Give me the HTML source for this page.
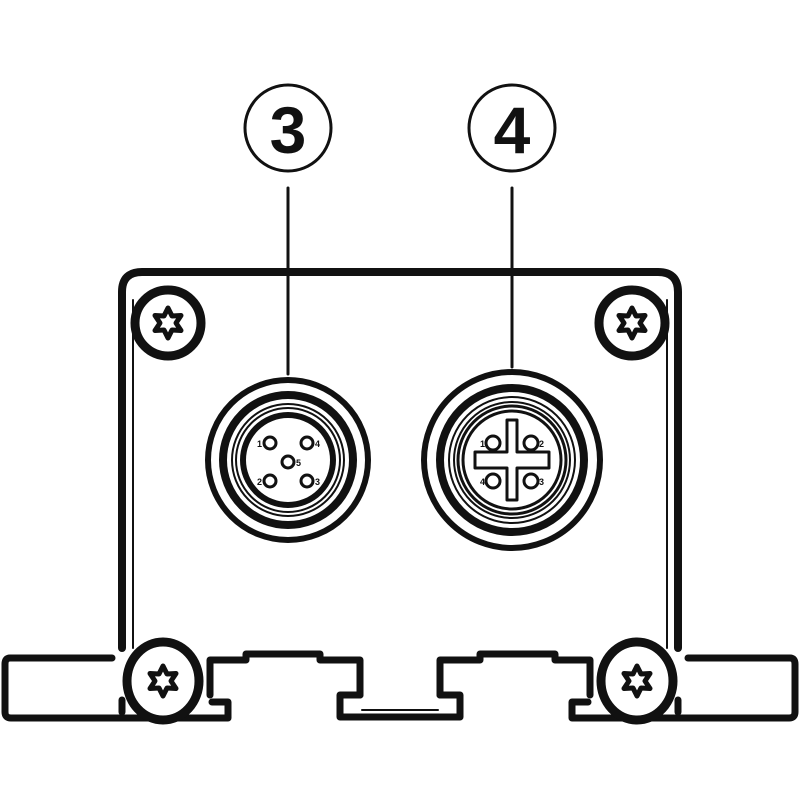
<!DOCTYPE html>
<html><head><style>body{margin:0;background:#fff}svg{display:block}</style></head><body>
<svg width="800" height="800" viewBox="0 0 800 800" xmlns="http://www.w3.org/2000/svg">
<defs>
<polygon id="torx" points="0,-15 4,-7 13,-7.5 8,0 13,7.5 4,7 0,15 -4,7 -13,7.5 -8,0 -13,-7.5 -4,-7" fill="#fff" stroke="#111" stroke-width="5" stroke-linejoin="round"/>
</defs>
<g fill="none" stroke="#111" stroke-linecap="round" stroke-linejoin="round">
<circle cx="288" cy="128" r="43" stroke-width="3"/>
<circle cx="512" cy="128" r="43" stroke-width="3"/>
<line x1="288" y1="188" x2="288" y2="374" stroke-width="3"/>
<line x1="512" y1="188" x2="512" y2="367" stroke-width="3"/>
<path d="M122,648 L122,292 Q122,272 142,272 L658,272 Q678,272 678,292 L678,648" stroke-width="8"/>
<path d="M133,648 L133,300" stroke-width="2"/>
<path d="M667,648 L667,300" stroke-width="2"/>
<circle cx="168" cy="323" r="33" stroke-width="9"/>
<circle cx="632" cy="323" r="33" stroke-width="9"/>
<path d="M112,658 L10,658 Q5,658 5,664 L5,712 Q5,718 11,718 L228,718 L228,702 L212,702" stroke-width="7"/>
<path d="M688,658 L790,658 Q795,658 795,664 L795,712 Q795,718 789,718 L572,718 L572,702 L588,702" stroke-width="7"/>
<path d="M122,700 L122,712" stroke-width="7"/>
<path d="M678,700 L678,712" stroke-width="7"/>
<path d="M210,695 L210,660 L246,660 L246,654 L320,654 L320,660 L360,660 L360,695" stroke-width="7"/>
<path d="M440,695 L440,660 L480,660 L480,654 L555,654 L555,660 L590,660 L590,695" stroke-width="7"/>
<path d="M360,695 L340,695 L340,717 L460,717 L460,695 L440,695" stroke-width="7"/>
<line x1="362" y1="710" x2="438" y2="710" stroke-width="2"/>
<ellipse cx="163" cy="681" rx="36" ry="39" stroke-width="9" fill="#fff"/>
<ellipse cx="637" cy="681" rx="36" ry="39" stroke-width="9" fill="#fff"/>
<circle cx="288" cy="460" r="80" stroke-width="6"/>
<circle cx="288" cy="460" r="65" stroke-width="8"/>
<circle cx="288" cy="460" r="56" stroke-width="2"/>
<circle cx="288" cy="460" r="52" stroke-width="2"/>
<circle cx="288" cy="460" r="45" stroke-width="6"/>
<circle cx="512" cy="460" r="88" stroke-width="6"/>
<circle cx="512" cy="460" r="72" stroke-width="8"/>
<circle cx="512" cy="460" r="63" stroke-width="2"/>
<circle cx="512" cy="460" r="58" stroke-width="2"/>
<circle cx="512" cy="460" r="54" stroke-width="3"/>
<circle cx="512" cy="460" r="49" stroke-width="3"/>
<path d="M507,420 L507,452 L475,452 L475,468 L507,468 L507,500 L517,500 L517,468 L549,468 L549,452 L517,452 L517,420 Z" stroke-width="3"/>
</g>
<g stroke="#111" stroke-width="3" fill="#fff">
<circle cx="270" cy="443" r="6"/><circle cx="307" cy="443" r="6"/>
<circle cx="270" cy="481" r="6"/><circle cx="307" cy="481" r="6"/>
<circle cx="288" cy="462" r="6"/>
<circle cx="493" cy="443" r="7"/><circle cx="531" cy="443" r="7"/>
<circle cx="493" cy="481" r="7"/><circle cx="531" cy="481" r="7"/>
</g>
<use href="#torx" x="168" y="323"/>
<use href="#torx" x="632" y="323"/>
<use href="#torx" x="163" y="681"/>
<use href="#torx" x="637" y="681"/>
<g font-family="Liberation Sans, sans-serif" font-weight="bold" fill="#111">
<text x="288" y="153" font-size="66" text-anchor="middle">3</text>
<text x="512" y="153" font-size="66" text-anchor="middle">4</text>
<g font-size="9">
<text x="257" y="447">1</text><text x="315" y="447">4</text>
<text x="257" y="485">2</text><text x="315" y="485">3</text>
<text x="296" y="466">5</text>
<text x="480" y="447">1</text><text x="539" y="447">2</text>
<text x="480" y="485">4</text><text x="539" y="485">3</text>
</g></g>
</svg>
</body></html>
